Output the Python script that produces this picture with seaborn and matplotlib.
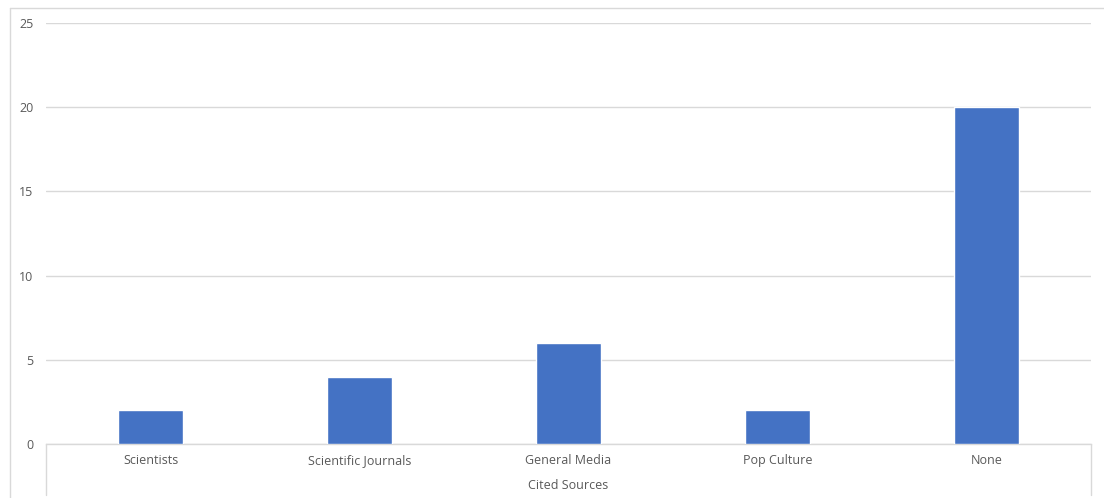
import matplotlib
matplotlib.use("Agg")
import matplotlib.pyplot as plt
from matplotlib.lines import Line2D
import seaborn as sns
import pandas as pd

categories = ["Scientists", "Scientific Journals", "General Media", "Pop Culture", "None"]
counts = [2, 4, 6, 2, 20]
y_ticks = [0, 5, 10, 15, 20, 25]
group_label = "Cited Sources"

sns.set_theme(style="white")
plt.rcParams["font.family"] = ["Open Sans", "DejaVu Sans"]

W, H = 1104, 498
fig = plt.figure(figsize=(W / 100, H / 100), dpi=100)
fig.patch.set_facecolor("white")

left, right, top, bottom = 46, 1091, 23, 444
ax = fig.add_axes([left / W, (H - bottom) / H, (right - left) / W, (bottom - top) / H])

df = pd.DataFrame({"source": categories, "count": counts})
sns.barplot(data=df, x="source", y="count", color="#4472C4", width=0.31,
            saturation=1, ax=ax, zorder=3)

text_color = "#595959"
grid_color = "#D9D9D9"

ax.set_ylim(0, 25)
ax.set_yticks(y_ticks)
ax.set_yticklabels([str(t) for t in y_ticks])
ax.grid(axis="y", color=grid_color, linewidth=1, zorder=0)
ax.grid(axis="x", visible=False)
for s in ["top", "right", "left"]:
    ax.spines[s].set_visible(False)
ax.spines["bottom"].set_color(grid_color)
ax.spines["bottom"].set_linewidth(1)
ax.tick_params(axis="y", length=0, pad=9, labelsize=9, labelcolor=text_color)
ax.tick_params(axis="x", length=0, pad=7, labelsize=9, labelcolor=text_color)
ax.set_xlabel("")
ax.set_ylabel("")

# group label under the category axis
fig.text((left + right) / 2 / W, 1 - 485 / H, group_label, ha="center", va="center",
         fontsize=9, color=text_color)

# outer group dividers of the category axis
for xp in (left, right):
    fig.add_artist(Line2D([xp / W, xp / W], [1 - bottom / H, 1 - 495 / H],
                          color=grid_color, linewidth=1))

# chart area border
fig.add_artist(Line2D([10 / W, 10 / W], [0, 1 - 8 / H], color=grid_color, linewidth=1))
fig.add_artist(Line2D([10 / W, 1], [1 - 8 / H, 1 - 8 / H], color=grid_color, linewidth=1))

fig.savefig("out.png", dpi=100, facecolor="white")
